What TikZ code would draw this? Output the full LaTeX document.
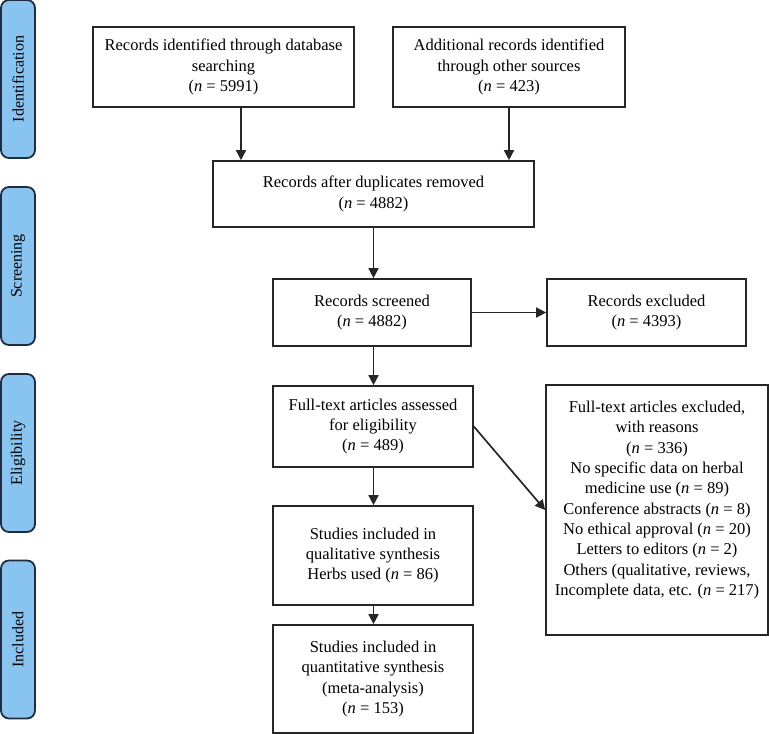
\documentclass[tikz,border=0pt]{standalone}
\usepackage{fontspec}
\setmainfont{Liberation Serif}
\usetikzlibrary{arrows.meta}
\definecolor{sidefill}{RGB}{137,196,240}
\definecolor{sidedraw}{RGB}{30,45,65}
\begin{document}
\begin{tikzpicture}[x=1pt,y=-1pt,
  box/.style={draw=black!85,line width=1.7pt,align=center,inner sep=0pt,
    font=\fontsize{16.5}{20.3}\selectfont},
  side/.style={draw=sidedraw,fill=sidefill,line width=1.8pt,rounded corners=8pt,
    minimum width=34pt,minimum height=158pt,inner sep=0pt,
    font=\fontsize{16}{18}\selectfont},
  arr/.style={line width=1.7pt,draw=black!85,-{Triangle[width=10pt,length=10pt]}},
  txt/.style={align=center,inner sep=0pt,font=\fontsize{16.5}{20.3}\selectfont}]
\useasboundingbox (0,0) rectangle (769,734);
% side labels
\node[side] (s1) at (18,79) {\rotatebox{90}{Identification}};
\node[side] (s2) at (18,266) {\rotatebox{90}{Screening}};
\node[side] (s3) at (18,453) {\rotatebox{90}{Eligibility}};
\node[side] (s4) at (18,639.5) {\rotatebox{90}{Included}};
% boxes
\node[box,minimum width=261pt,minimum height=80pt] (b1) at (223.5,67)
  {Records identified through database\\searching\\(\textit{n} = 5991)};
\node[box,minimum width=232pt,minimum height=80pt] (b2) at (509,67)
  {Additional records identified\\through other sources\\(\textit{n} = 423)};
\node[box,minimum width=321pt,minimum height=66pt] (b3) at (373.5,194)
  {Records after duplicates removed\\(\textit{n} = 4882)};
\node[box,minimum width=198pt,minimum height=67pt] (b4) at (372,312.5)
  {Records screened\\(\textit{n} = 4882)};
\node[box,minimum width=199pt,minimum height=67pt] (b5) at (646.5,312.5)
  {Records excluded\\(\textit{n} = 4393)};
\node[box,minimum width=200pt,minimum height=81pt] (b6) at (373,426.5)
  {Full-text articles assessed\\for eligibility\\(\textit{n} = 489)};
\node[box,minimum width=222pt,minimum height=250pt] (b7) at (657,510) {};
\node[txt] (b7t) at (657,500)
  {Full-text articles excluded,\\with reasons\\(\textit{n} = 336)\\No specific data on herbal\\medicine use (\textit{n} = 89)\\Conference abstracts (\textit{n} = 8)\\No ethical approval (\textit{n} = 20)\\Letters to editors (\textit{n} = 2)\\Others (qualitative, reviews,\\Incomplete data, etc. (\textit{n} = 217)};
\node[box,minimum width=200pt,minimum height=99pt] (b8) at (373,555.5)
  {Studies included in\\qualitative synthesis\\Herbs used (\textit{n} = 86)};
\node[box,minimum width=200pt,minimum height=108pt] (b9) at (373,679)
  {Studies included in\\quantitative synthesis\\(meta-analysis)\\(\textit{n} = 153)};
% connectors
\coordinate (c1) at (241,0);
\coordinate (c2) at (373.5,0);
\draw[arr] (b1.south -| c1) -- (b3.north -| c1);
\draw[arr] (b2.south) -- (b3.north -| b2.south);
\draw[arr] (b3.south -| c2) -- (b4.north -| c2);
\draw[arr] (b4.east) -- (b5.west);
\draw[arr] (b4.south -| c2) -- (b6.north -| c2);
\draw[arr] (b6.east) -- (b7.west);
\draw[arr] (b6.south -| c2) -- (b8.north -| c2);
\draw[arr] (b8.south -| c2) -- (b9.north -| c2);
\end{tikzpicture}
\end{document}
